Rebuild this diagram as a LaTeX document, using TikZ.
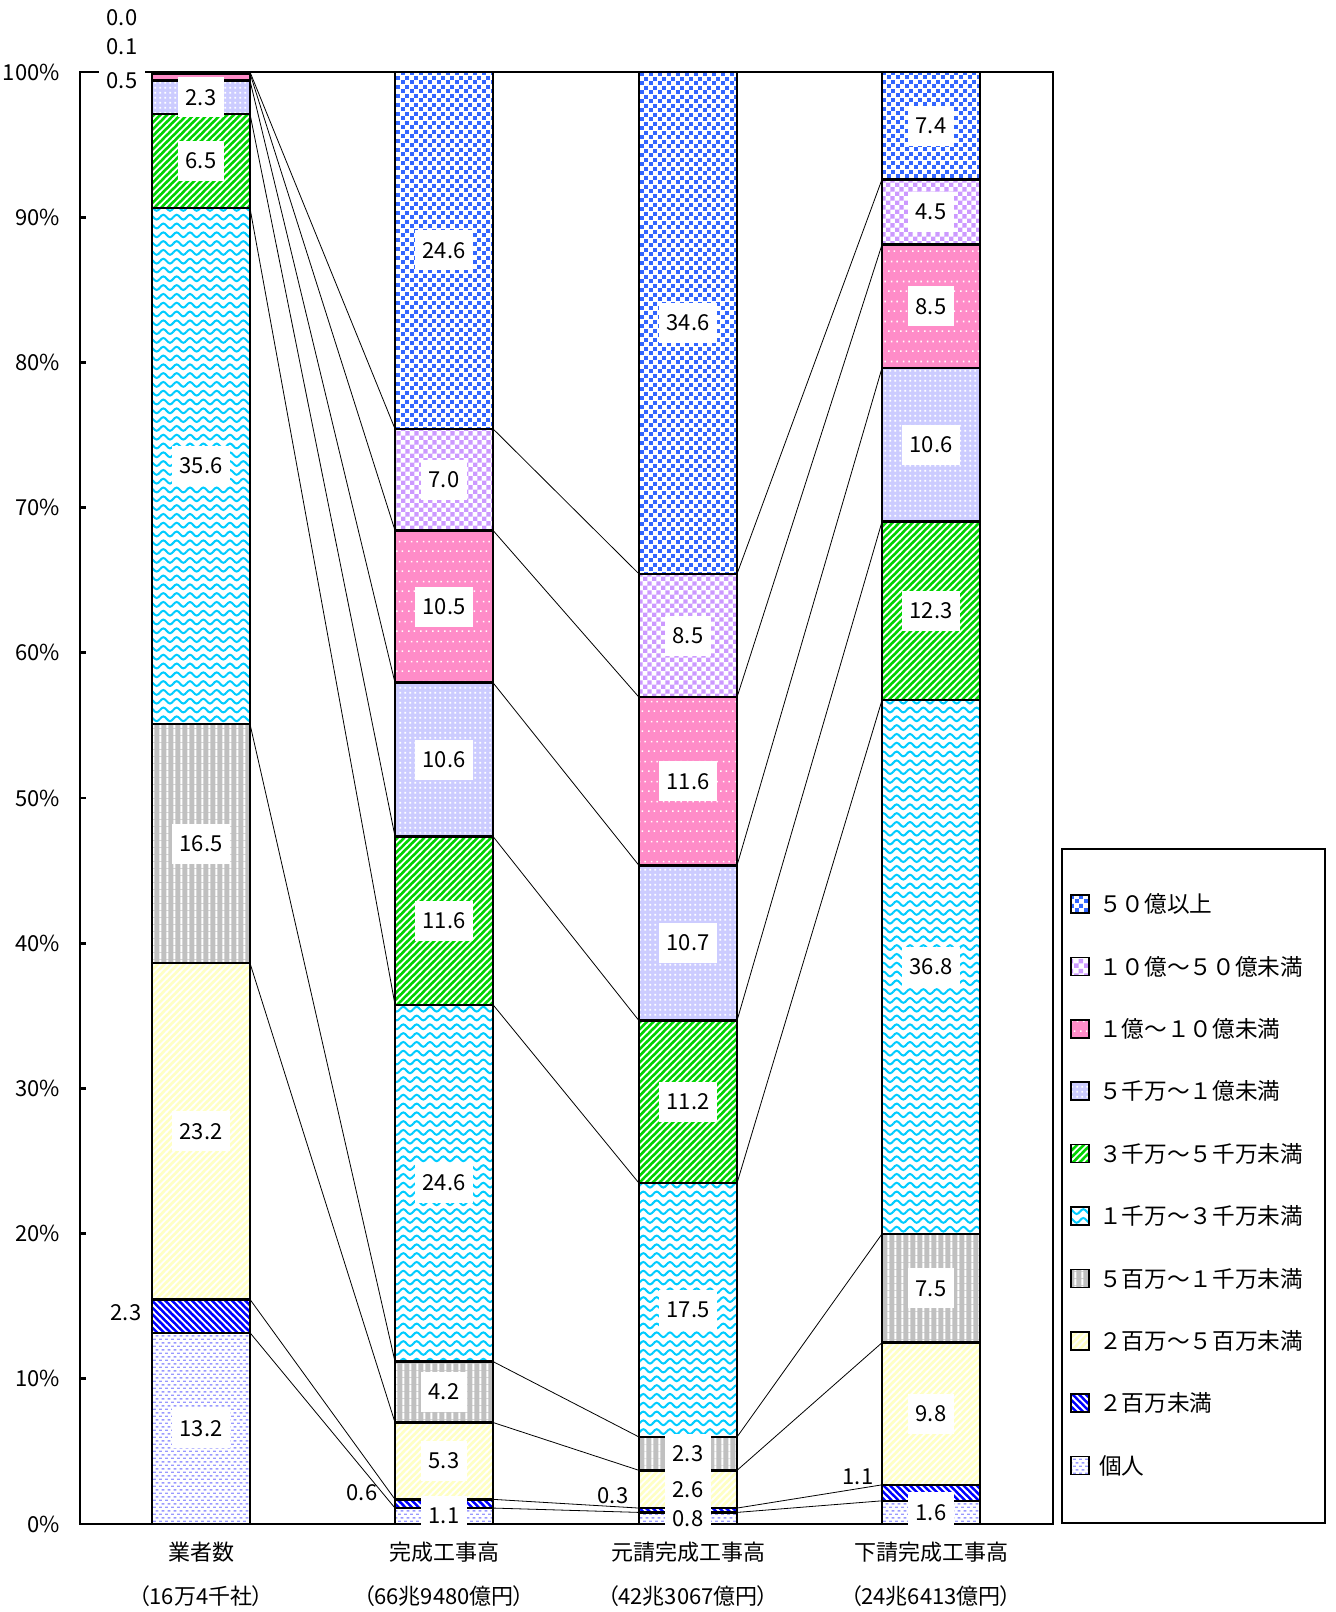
\documentclass[tikz,border=0pt]{standalone}
\usepackage{fontspec}
\setmainfont{Noto Sans CJK JP}
\newfontfamily\propfont[RawFeature=+palt]{Noto Sans CJK JP}
\usetikzlibrary{patterns,positioning}

\definecolor{sqblue}{HTML}{3366FF}
\definecolor{chkpurple}{HTML}{CC99FF}
\definecolor{rosepink}{HTML}{FF8CC8}
\definecolor{lavender}{HTML}{CCCCFF}
\definecolor{stripegreen}{HTML}{00D400}
\definecolor{wavecyan}{HTML}{00CCFF}
\definecolor{midgray}{HTML}{C0C0C0}
\definecolor{paleyellow}{HTML}{FFFFC4}
\definecolor{deepblue}{HTML}{0000FF}
\definecolor{dashlav}{HTML}{9999FF}

% fill patterns of the ten series
\pgfdeclarepatternformonly{bluesq}{\pgfqpoint{0pt}{0pt}}{\pgfqpoint{6.4pt}{6.4pt}}{\pgfqpoint{6.4pt}{6.4pt}}{%
  \pgfpathrectangle{\pgfqpoint{0pt}{0pt}}{\pgfqpoint{3pt}{3pt}}%
  \pgfpathrectangle{\pgfqpoint{3.2pt}{3.2pt}}{\pgfqpoint{3pt}{3pt}}%
  \pgfusepath{fill}}
\pgfdeclarepatternformonly{checker}{\pgfqpoint{0pt}{0pt}}{\pgfqpoint{7pt}{7pt}}{\pgfqpoint{7pt}{7pt}}{%
  \pgfpathrectangle{\pgfqpoint{0pt}{0pt}}{\pgfqpoint{3.5pt}{3.5pt}}%
  \pgfpathrectangle{\pgfqpoint{3.5pt}{3.5pt}}{\pgfqpoint{3.5pt}{3.5pt}}%
  \pgfusepath{fill}}
\pgfdeclarepatternformonly{sparsedots}{\pgfqpoint{0pt}{0pt}}{\pgfqpoint{9pt}{15pt}}{\pgfqpoint{9pt}{15pt}}{%
  \pgfpathrectangle{\pgfqpoint{0pt}{0pt}}{\pgfqpoint{1.3pt}{1.3pt}}%
  \pgfpathrectangle{\pgfqpoint{4.5pt}{0pt}}{\pgfqpoint{1.3pt}{1.3pt}}%
  \pgfpathrectangle{\pgfqpoint{2.25pt}{7.5pt}}{\pgfqpoint{1.3pt}{1.3pt}}%
  \pgfpathrectangle{\pgfqpoint{6.75pt}{7.5pt}}{\pgfqpoint{1.3pt}{1.3pt}}%
  \pgfusepath{fill}}
\pgfdeclarepatternformonly{gridots}{\pgfqpoint{0pt}{0pt}}{\pgfqpoint{3.6pt}{3.6pt}}{\pgfqpoint{3.6pt}{3.6pt}}{%
  \pgfpathrectangle{\pgfqpoint{1pt}{1pt}}{\pgfqpoint{1.4pt}{1.4pt}}%
  \pgfusepath{fill}}
\pgfdeclarepatternformonly{stripene}{\pgfqpoint{-1pt}{-1pt}}{\pgfqpoint{6pt}{6pt}}{\pgfqpoint{5pt}{5pt}}{%
  \pgfsetlinewidth{1.3pt}%
  \pgfpathmoveto{\pgfqpoint{-0.5pt}{-0.5pt}}\pgfpathlineto{\pgfqpoint{5.5pt}{5.5pt}}%
  \pgfusepath{stroke}}
\pgfdeclarepatternformonly{stripenw}{\pgfqpoint{-1pt}{-1pt}}{\pgfqpoint{6pt}{6pt}}{\pgfqpoint{5pt}{5pt}}{%
  \pgfsetlinewidth{1.4pt}%
  \pgfpathmoveto{\pgfqpoint{-0.5pt}{5.5pt}}\pgfpathlineto{\pgfqpoint{5.5pt}{-0.5pt}}%
  \pgfusepath{stroke}}
\pgfdeclarepatternformonly{vstripe}{\pgfqpoint{0pt}{0pt}}{\pgfqpoint{5.2pt}{5pt}}{\pgfqpoint{5.2pt}{5pt}}{%
  \pgfsetlinewidth{1.5pt}%
  \pgfpathmoveto{\pgfqpoint{1pt}{0pt}}\pgfpathlineto{\pgfqpoint{1pt}{5pt}}%
  \pgfusepath{stroke}}
\pgfdeclarepatternformonly{waves}{\pgfqpoint{-0.5pt}{0pt}}{\pgfqpoint{10.5pt}{6.6pt}}{\pgfqpoint{10pt}{6.6pt}}{%
  \pgfsetlinewidth{1.5pt}%
  \pgfpathmoveto{\pgfqpoint{0pt}{3.3pt}}%
  \pgfpathsine{\pgfqpoint{2.5pt}{1.8pt}}%
  \pgfpathcosine{\pgfqpoint{2.5pt}{-1.8pt}}%
  \pgfpathsine{\pgfqpoint{2.5pt}{-1.8pt}}%
  \pgfpathcosine{\pgfqpoint{2.5pt}{1.8pt}}%
  \pgfusepath{stroke}}
\pgfdeclarepatternformonly{dashes}{\pgfqpoint{0pt}{0pt}}{\pgfqpoint{4.6pt}{5.2pt}}{\pgfqpoint{4.6pt}{5.2pt}}{%
  \pgfpathrectangle{\pgfqpoint{0pt}{0pt}}{\pgfqpoint{2.4pt}{1.1pt}}%
  \pgfpathrectangle{\pgfqpoint{2.3pt}{2.6pt}}{\pgfqpoint{2.3pt}{1.1pt}}%
  \pgfusepath{fill}}

\tikzset{
    s1/.style={preaction={fill=white},pattern=dashes,pattern color=dashlav},
    s2/.style={preaction={fill=deepblue},pattern=stripenw,pattern color=white},
    s3/.style={preaction={fill=paleyellow},pattern=stripene,pattern color=white},
    s4/.style={preaction={fill=midgray},pattern=vstripe,pattern color=white},
    s5/.style={preaction={fill=white},pattern=waves,pattern color=wavecyan},
    s6/.style={preaction={fill=stripegreen},pattern=stripene,pattern color=white},
    s7/.style={preaction={fill=lavender},pattern=gridots,pattern color=white},
    s8/.style={preaction={fill=rosepink},pattern=sparsedots,pattern color=white},
    s9/.style={preaction={fill=white},pattern=checker,pattern color=chkpurple},
    s10/.style={preaction={fill=white},pattern=bluesq,pattern color=sqblue},
    ser/.style={s#1},
    seg/.style={draw=black,line width=1.8pt},
    swatch/.style={draw=black,line width=1.3pt},
    link/.style={line width=0.6pt},
    frame/.style={line width=1.3pt},
    axis/.style={line width=2pt},
    valbox/.style={fill=white,inner xsep=6pt,inner ysep=0pt,minimum height=30pt,font=\fontsize{16.5}{18}\selectfont},
    outlab/.style={inner sep=0pt,font=\fontsize{16.5}{18}\selectfont},
    ylab/.style={anchor=east,inner sep=0pt,font=\fontsize{16.5}{18}\selectfont},
    catlab/.style={font=\fontsize{16.5}{18}\selectfont},
    sublab/.style={font=\propfont\fontsize{16.5}{18}\selectfont},
    legtext/.style={anchor=west,inner sep=0pt,font=\fontsize{17}{19}\selectfont},
}

\def\dataA{13.2,2.3,23.2,16.5,35.6,6.5,2.3,0.5,0.1,0.0}
\def\dataB{1.1,0.6,5.3,4.2,24.6,11.6,10.6,10.5,7.0,24.6}
\def\dataC{0.8,0.3,2.6,2.3,17.5,11.2,10.7,11.6,8.5,34.6}
\def\dataD{1.6,1.1,9.8,7.5,36.8,12.3,10.6,8.5,4.5,7.4}

% one stacked bar: id, x centre, values (bottom to top)
\newcommand{\drawbar}[3]{%
  \gdef\tot{0}%
  \foreach \v in #3 {\pgfmathparse{\tot+\v}\xdef\tot{\pgfmathresult}}%
  \gdef\cum{0}%
  \foreach \v [count=\k] in #3 {
    \pgfmathsetmacro\ya{1524-\cum/\tot*1452}
    \pgfmathparse{\cum+\v}\xdef\cum{\pgfmathresult}
    \pgfmathsetmacro\yb{1524-\cum/\tot*1452}
    \draw[seg,ser/.expand once=\k] (#2-49,\ya) rectangle (#2+49,\yb);
    \coordinate (L#1-\k) at (#2-49,\yb);
    \coordinate (R#1-\k) at (#2+49,\yb);
    \coordinate (C#1-\k) at (#2,{(\ya+\yb)/2});
  }%
}
% value boxes inside a bar
\newcommand{\barlabels}[2]{%
  \foreach \v [count=\k] in #2 {
    \pgfmathtruncatemacro\inside{(\k==2 || \v<0.8) ? 0 : 1}
    \ifnum\inside=1 \node[valbox] (v#1-\k) at (C#1-\k) {\v};\fi
  }%
}

\begin{document}
\begin{tikzpicture}[x=0.75pt,y=-0.75pt]
  \useasboundingbox (0,0) rectangle (1335,1612);
  \draw[frame] (80,72) rectangle (1053,1524);

  \drawbar{1}{201}{\dataA}
  \drawbar{2}{444}{\dataB}
  \drawbar{3}{688}{\dataC}
  \drawbar{4}{931}{\dataD}

  % series lines
  \foreach \i/\j in {1/2,2/3,3/4}
    \foreach \k in {1,...,9}
      \draw[link] (R\i-\k) -- (L\j-\k);

  \draw[axis] (80,72) -- (80,1524) -- (1053,1524);
  \foreach \t in {0,...,10} {
    \pgfmathsetmacro\ty{1524-145.2*\t}
    \pgfmathtruncatemacro\pc{10*\t}
    \coordinate (t\t) at (80,\ty);
    \draw[axis] (t\t) -- ++(6,0);
    \node[ylab] (y\t) at (60,\ty) {\pc\%};
  }

  \barlabels{1}{\dataA}
  \barlabels{2}{\dataB}
  \barlabels{3}{\dataC}
  \barlabels{4}{\dataD}

  % small values beside the bars
  \node[valbox] (o1a) at (122,17.5) {0.0};
  \node[valbox] (o1b) at (122,47) {0.1};
  \node[valbox] (o1c) at (122,81) {0.5};
  \node[outlab] (o1d) at (126,1313) {2.3};
  \node[outlab] (o2) at (362,1493) {0.6};
  \node[outlab] (o3) at (613,1496) {0.3};
  \node[outlab] (o4) at (858,1477) {1.1};

  \node[catlab] (cat1) at (201,1552) {業者数};
  \node[catlab] (cat2) at (444,1552) {完成工事高};
  \node[catlab] (cat3) at (688,1552) {元請完成工事高};
  \node[catlab] (cat4) at (931,1552) {下請完成工事高};
  \node[sublab] (sub1) at (201,1596) {（16万4千社）};
  \node[sublab] (sub2) at (444,1596) {（66兆9480億円）};
  \node[sublab] (sub3) at (688,1596) {（42兆3067億円）};
  \node[sublab] (sub4) at (931,1596) {（24兆6413億円）};

  % legend
  \draw[frame] (1062,849) rectangle (1325,1523);
  \foreach \st/\txt [count=\i] in {10/５０億以上,9/１０億～５０億未満,8/１億～１０億未満,
      7/５千万～１億未満,6/３千万～５千万未満,5/１千万～３千万未満,4/５百万～１千万未満,
      3/２百万～５百万未満,2/２百万未満,1/個人} {
    \pgfmathsetmacro\ly{904+62.4*(\i-1)}
    \draw[swatch,ser/.expand once=\st] (1071,\ly-9) rectangle (1089,\ly+9);
    \node[legtext] (leg\st) at (1099,\ly) {\txt};
  }
\end{tikzpicture}
\end{document}
